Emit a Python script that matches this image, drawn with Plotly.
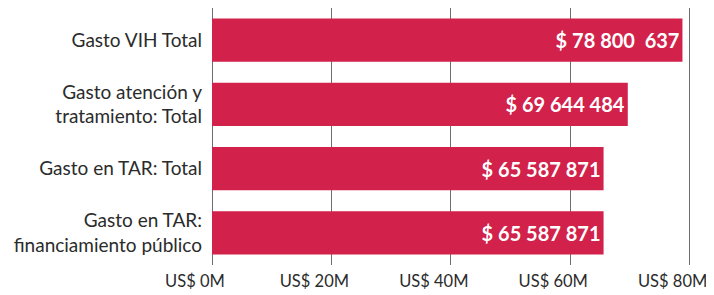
import plotly.graph_objects as go

categories = [
    "Gasto VIH Total",
    "Gasto atención y<br>tratamiento: Total",
    "Gasto en TAR: Total",
    "Gasto en TAR:<br>financiamiento público",
]
values = [78800637, 69644484, 65587871, 65587871]
value_labels = ["$ 78 800  637", "$ 69 644 484", "$ 65 587 871", "$ 65 587 871"]
tick_vals = [0, 20e6, 40e6, 60e6, 80e6]
tick_text = ["US$ 0M", "US$ 20M", "US$ 40M", "US$ 60M", "US$ 80M"]

fig = go.Figure(go.Bar(
    x=values,
    y=categories,
    orientation="h",
    marker=dict(color="#D2214A", line=dict(width=0)),
    width=0.67,
    text=value_labels,
    textposition="inside",
    insidetextanchor="end",
    textfont=dict(family="Lato", size=20, color="white", weight="bold"),
    cliponaxis=False,
))

# the page body adds an 8px margin, so the figure is sized to fit inside it
fig.update_layout(
    width=706, height=287,
    margin=dict(l=204, r=22, t=0, b=30, autoexpand=False),
    paper_bgcolor="white", plot_bgcolor="white",
    font=dict(family="Lato", size=19, color="#2b2b2b"),
    showlegend=False,
    bargap=0.33,
)
fig.update_xaxes(
    range=[0, 80.4e6],
    tickvals=tick_vals, ticktext=tick_text,
    showgrid=True, gridcolor="#6e6e6e", gridwidth=1,
    zeroline=True, zerolinecolor="#6e6e6e", zerolinewidth=1,
    tickfont=dict(size=16.5, color="#2b2b2b"),
    ticklabelstandoff=4,
    ticklabelshift=-17,
    automargin=False,
    fixedrange=True,
)
fig.update_yaxes(
    categoryorder="array", categoryarray=categories,
    autorange="reversed",
    tickfont=dict(size=19, color="#2b2b2b"),
    ticklabelstandoff=9,
    automargin=False,
    showline=False,
)

fig.write_html("out.html")
